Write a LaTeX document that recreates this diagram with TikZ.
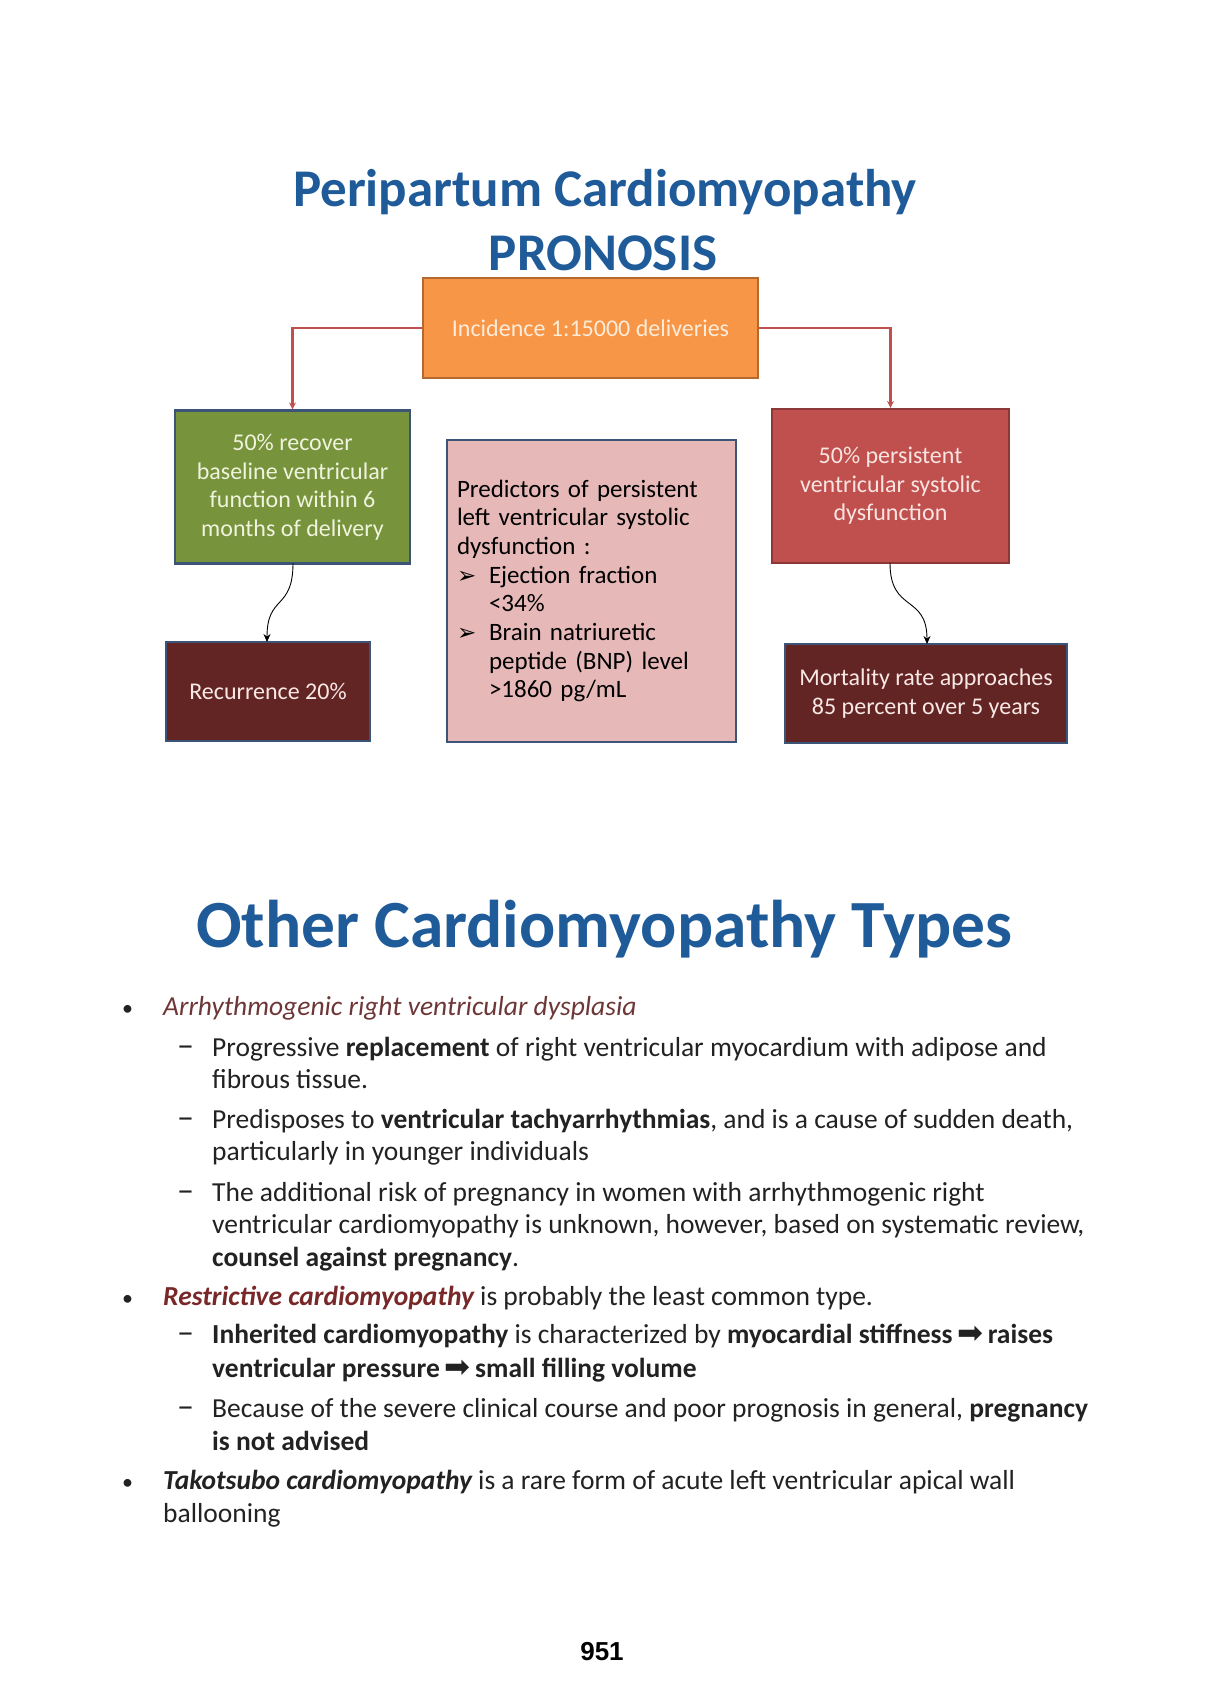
\documentclass[tikz,border=0pt]{standalone}
\usepackage{fontspec}
\setmainfont{Carlito}
\newfontfamily\dejavu{DejaVu Sans}
\newfontfamily\arialfont{Liberation Sans}
\usetikzlibrary{arrows.meta}
\definecolor{titleblue}{RGB}{31,91,153}
\definecolor{orangefill}{HTML}{F79646}
\definecolor{orangeborder}{HTML}{B5692F}
\definecolor{greenfill}{HTML}{77933C}
\definecolor{redfill}{HTML}{C0504D}
\definecolor{redborder}{HTML}{8C3836}
\definecolor{pinkfill}{HTML}{E6B9B8}
\definecolor{darkfill}{HTML}{632523}
\definecolor{slateborder}{HTML}{3B5477}
\definecolor{linkred}{HTML}{C0504D}
\definecolor{bodytext}{HTML}{222222}
\definecolor{maroonA}{RGB}{110,55,55}
\definecolor{maroonB}{RGB}{120,40,40}
\newcommand{\heavyarrow}{{\dejavu\fontsize{31}{33}\selectfont ➡}}
\begin{document}
\begin{tikzpicture}[x=1pt,y=-1pt,
  titletext/.style={anchor=base,text=titleblue,font=\fontsize{53}{60}\selectfont\bfseries,inner sep=0},
  boxtext/.style={font=\fontsize{24}{28.5}\selectfont,align=center,inner sep=0,line width=2.2pt},
  redlink/.style={draw=linkred,line width=2.2pt,-{Stealth[length=7pt,width=7pt]}},
  curvelink/.style={draw=black,line width=0.9pt,-{Stealth[length=8pt,width=7pt]}},
  line/.style={anchor=base west,inner sep=0,text=bodytext,font=\fontsize{27.5}{33}\selectfont},
  bul/.style={anchor=base west,inner sep=0,text=bodytext,font=\fontsize{22}{33}\selectfont},
  dsh/.style={anchor=base west,inner sep=0,text=bodytext,font=\fontsize{34}{33}\selectfont}
]
\useasboundingbox[fill=white] (0,0) rectangle (1208,1708);

% titles
\node[titletext] (t1) at (605,206) {Peripartum Cardiomyopathy};
\node[titletext] (t2) at (603,270) {PRONOSIS};

% boxes
\node[boxtext,fill=orangefill,draw=orangeborder,text={rgb,255:red,253;green,236;blue,218},
  minimum width=335,minimum height=100] (inc) at (590.5,328) {Incidence 1:15000 deliveries};
\node[boxtext,fill=greenfill,draw=slateborder,text={rgb,255:red,240;green,243;blue,222},
  minimum width=235,minimum height=153] (rec50) at (292.5,487)
  {50\% recover\\baseline ventricular\\function within 6\\months of delivery};
\node[boxtext,fill=redfill,draw=redborder,text={rgb,255:red,250;green,228;blue,226},
  minimum width=237,minimum height=154] (per50) at (890.5,486)
  {50\% persistent\\ventricular systolic\\dysfunction};
\node[boxtext,fill=pinkfill,draw=slateborder,text=black,align=left,
  font=\fontsize{25}{28.7}\selectfont,text width=269,inner xsep=10,
  minimum width=289,minimum height=302] (pred) at (591.5,591)
  {Predictors of persistent\\left ventricular systolic\\dysfunction :\\
   \makebox[32pt][l]{\dejavu\fontsize{23}{28.7}\selectfont ➢}Ejection fraction\\
   \hspace*{32pt}<34\%\\
   \makebox[32pt][l]{\dejavu\fontsize{23}{28.7}\selectfont ➢}Brain natriuretic\\
   \hspace*{32pt}peptide (BNP) level\\
   \hspace*{32pt}>1860 pg/mL};
\node[boxtext,fill=darkfill,draw=slateborder,text={rgb,255:red,248;green,232;blue,230},
  minimum width=204,minimum height=99] (recur) at (268,691.5) {Recurrence 20\%};
\node[boxtext,fill=darkfill,draw=slateborder,text={rgb,255:red,248;green,232;blue,230},
  minimum width=282,minimum height=99] (mort) at (926,693.5)
  {Mortality rate approaches\\85 percent over 5 years};

% connectors
\draw[redlink] (inc.west) -| (rec50.north);
\draw[redlink] (inc.east) -| (per50.north);
\coordinate (gs) at (293,563);
\coordinate (rn) at (267,642);
\coordinate (ps) at (890,563);
\coordinate (mn) at (927,644);
\draw[curvelink] (gs) .. controls +(0,48) and +(0,-48) .. (rn);
\draw[curvelink] (ps) .. controls +(0,50) and +(0,-50) .. (mn);

% second title
\node[anchor=base,inner sep=0,text=titleblue,font=\fontsize{67.5}{75}\selectfont\bfseries] (t3) at (604,947) {Other Cardiomyopathy Types};

% bullets
\node[bul] (b1) at (122,1015) {•};
\node[bul] (b2) at (122,1305) {•};
\node[bul] (b3) at (122,1489) {•};
\node[dsh] (d1) at (177,1056) {–};
\node[dsh] (d2) at (177,1128) {–};
\node[dsh] (d3) at (177,1201) {–};
\node[dsh] (d4) at (177,1343) {–};
\node[dsh] (d5) at (177,1417) {–};

\node[line,text=maroonA] (l1) at (163,1015) {\itshape Arrhythmogenic right ventricular dysplasia};
\node[line] (l2) at (212,1056) {Progressive \textbf{replacement} of right ventricular myocardium with adipose and};
\node[line] (l3) at (212,1088) {fibrous tissue.};
\node[line] (l4) at (212,1128) {Predisposes to \textbf{ventricular tachyarrhythmias}, and is a cause of sudden death,};
\node[line] (l5) at (212,1160) {particularly in younger individuals};
\node[line] (l6) at (212,1201) {The additional risk of pregnancy in women with arrhythmogenic right};
\node[line] (l7) at (212,1233) {ventricular cardiomyopathy is unknown, however, based on systematic review,};
\node[line] (l8) at (212,1266) {\textbf{counsel against pregnancy}.};
\node[line] (l9) at (163,1305) {{\bfseries\itshape\color{maroonB}Restrictive cardiomyopathy} is probably the least common type.};
\node[line] (l10) at (212,1343) {\textbf{Inherited cardiomyopathy} is characterized by \textbf{myocardial stiffness}\,\heavyarrow\,\textbf{raises}};
\node[line] (l11) at (212,1377) {\textbf{ventricular pressure}\,\heavyarrow\,\textbf{small filling volume}};
\node[line] (l12) at (212,1417) {Because of the severe clinical course and poor prognosis in general, \textbf{pregnancy}};
\node[line] (l13) at (212,1450) {\textbf{is not advised}};
\node[line] (l14) at (163,1489) {{\bfseries\itshape Takotsubo cardiomyopathy} is a rare form of acute left ventricular apical wall};
\node[line] (l15) at (163,1522) {ballooning};

% page number
\node[anchor=base,inner sep=0,font=\arialfont\bfseries\fontsize{26}{30}\selectfont,text=black] (pg) at (602,1660) {951};
\end{tikzpicture}
\end{document}
